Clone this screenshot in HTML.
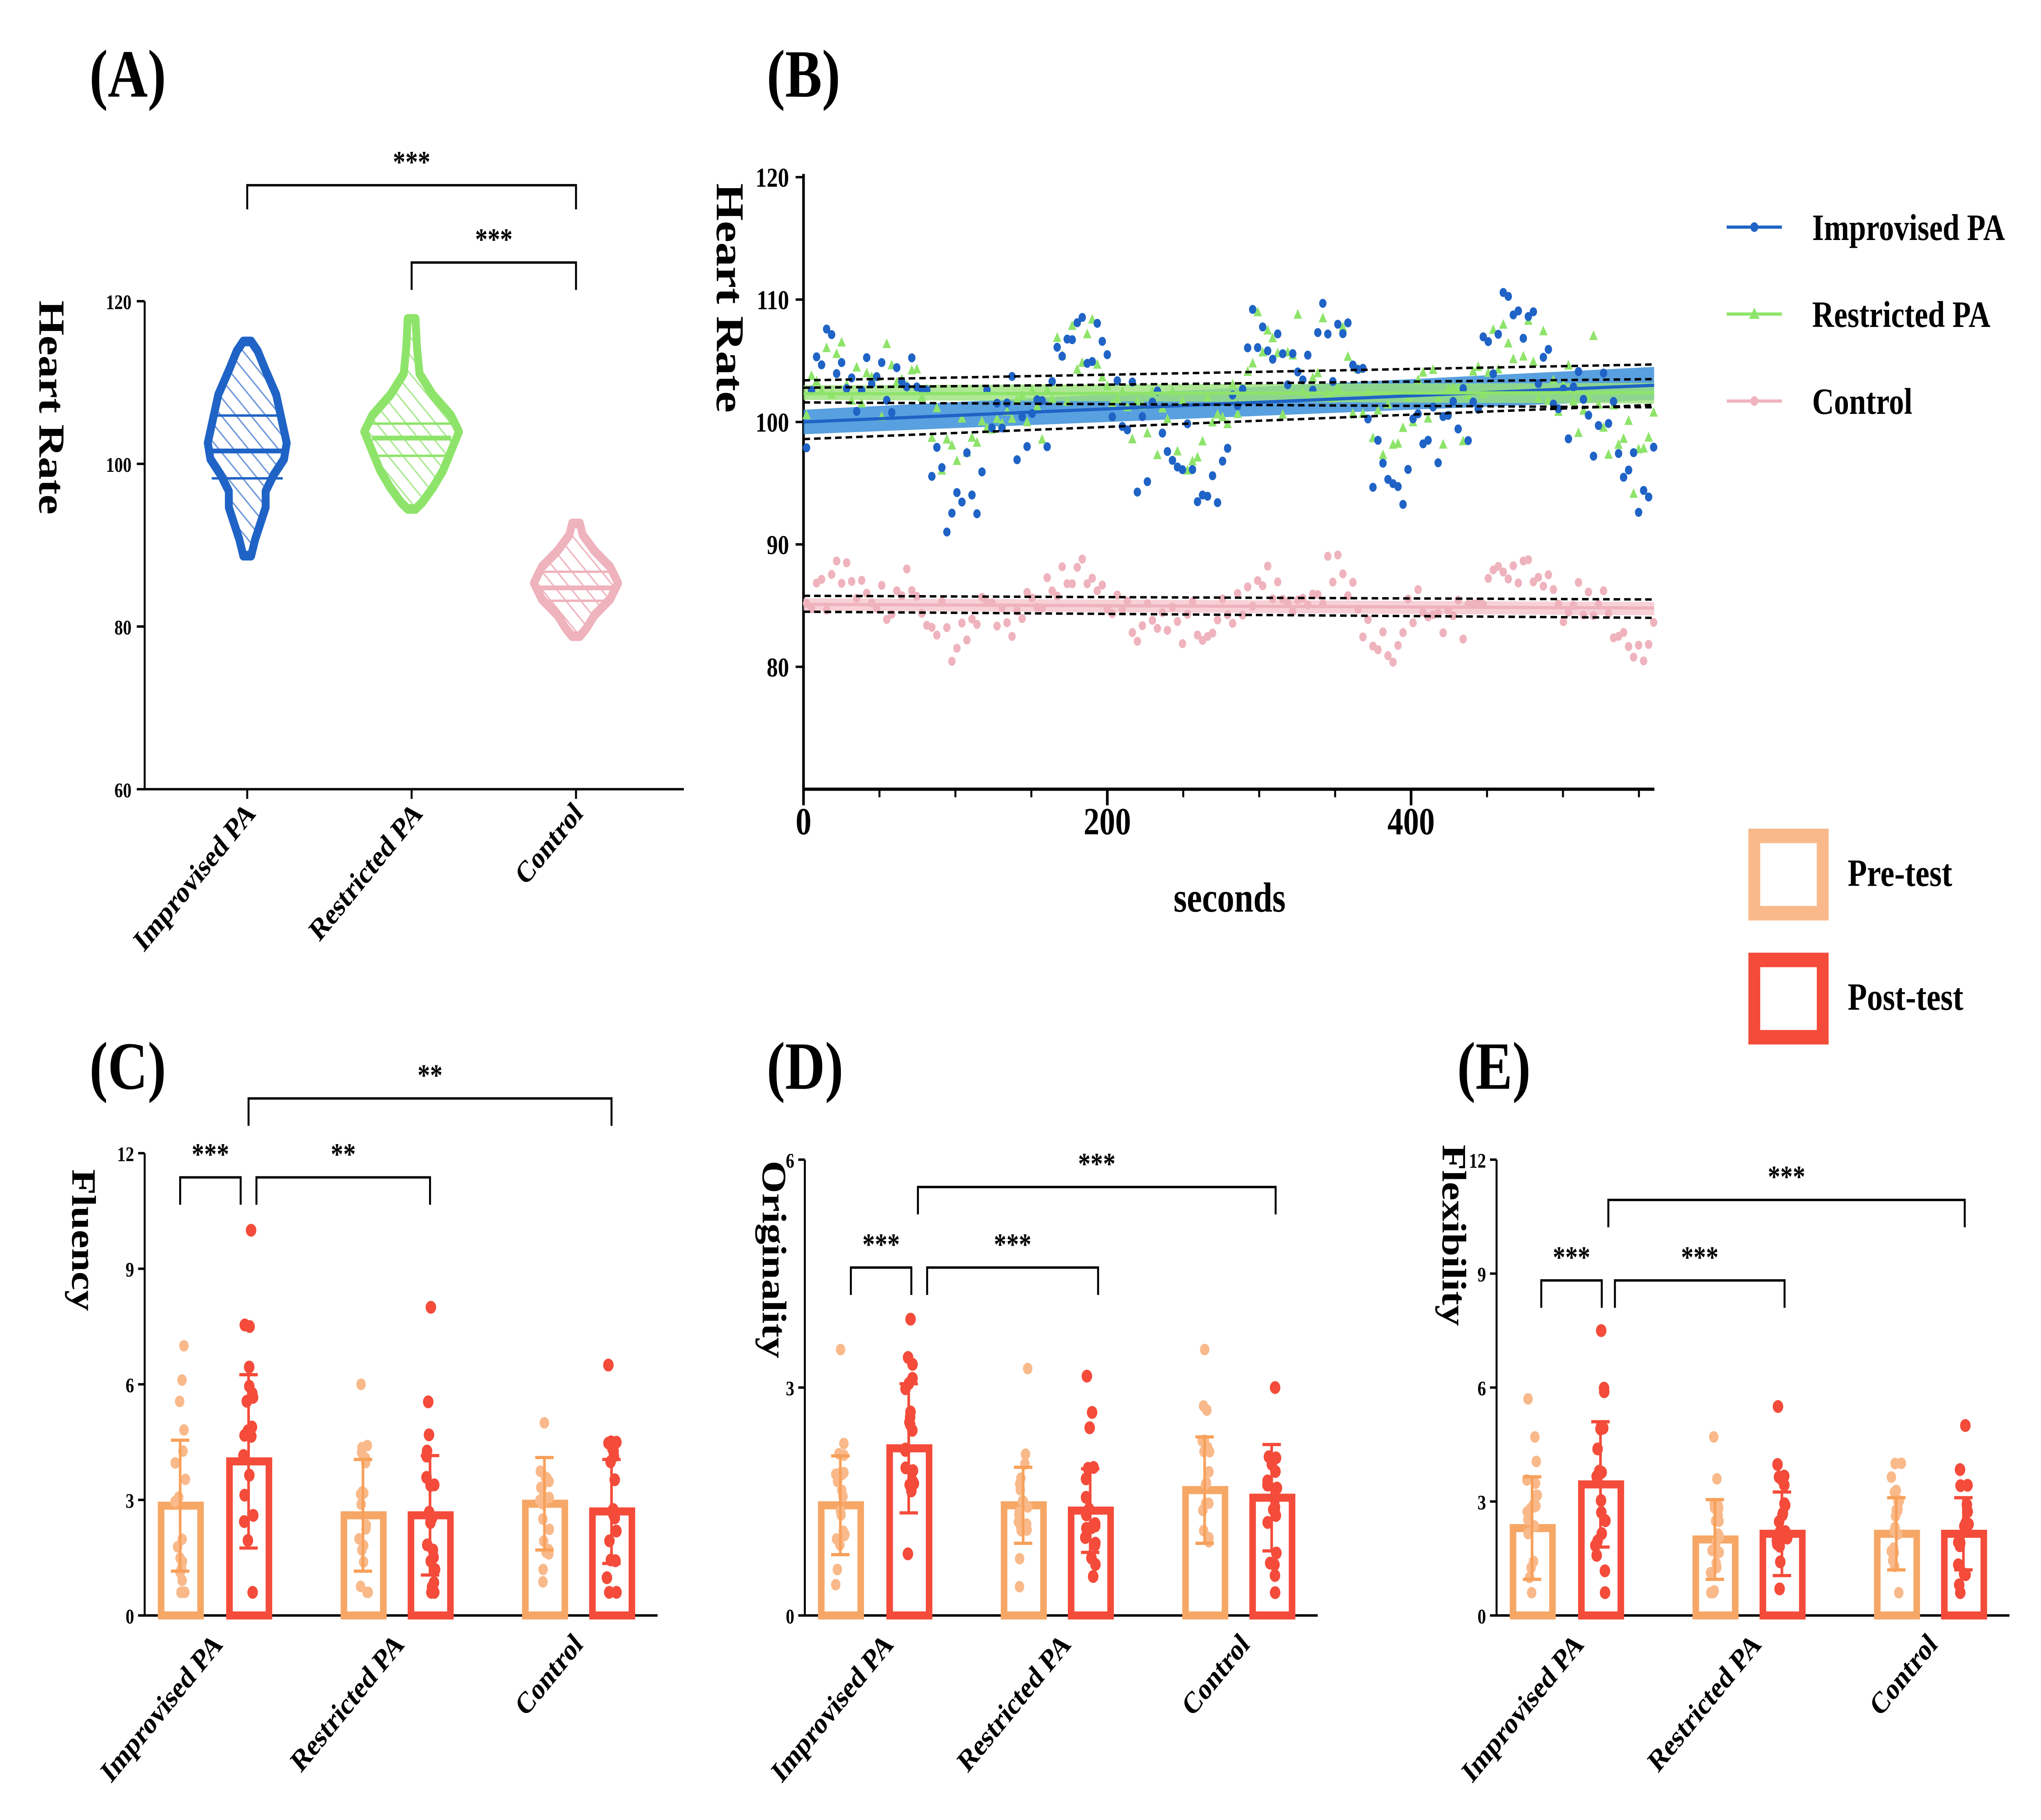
<!DOCTYPE html>
<html><head><meta charset="utf-8">
<style>
html,body{margin:0;padding:0;background:#fff;width:100vw;height:100vh;overflow:hidden;}
svg{display:block;position:absolute;left:0;top:0;width:100vw;height:100vh;}
text{font-family:"Liberation Serif",serif;font-weight:bold;fill:#000;}
</style></head>
<body>
<svg id="s" viewBox="0 0 1552 1130" preserveAspectRatio="none" xmlns="http://www.w3.org/2000/svg"></svg>
<script>
var s=document.getElementById('s');var out=[];
var seed=12345;function rnd(){seed=(seed*16807)%2147483647;return (seed-1)/2147483646;}
function gauss(){return (rnd()+rnd()+rnd()+rnd()-2)/0.58;}
function L(x1,y1,x2,y2,c,w,extra){out.push('<line x1="'+x1+'" y1="'+y1+'" x2="'+x2+'" y2="'+y2+'" stroke="'+(c||'#000')+'" stroke-width="'+(w||1.5)+'" '+(extra||'')+'/>');}
function T(x,y,t,sz,anc,extra){out.push('<text x="'+x+'" y="'+y+'" font-size="'+sz+'" text-anchor="'+(anc||'start')+'" '+(extra||'')+'>'+t+'</text>');}
function bracket(x1,x2,y,drop1,drop2,label){out.push('<polyline points="'+x1+','+(y+drop1)+' '+x1+','+y+' '+x2+','+y+' '+x2+','+(y+drop2)+'" fill="none" stroke="#000" stroke-width="1.5"/>');T((x1+x2)/2,y-8,label,19,'middle');}
T(68,60,'(A)',42);T(583,60,'(B)',42);T(68,676,'(C)',42);T(583,676,'(D)',42);T(1108,676,'(E)',42);
L(110,187,110,490);L(110,490,520,490);
[[187,'120'],[288,'100'],[389,'80'],[490,'60']].forEach(function(t){L(104,t[0],110,t[0]);T(100,t[0]+5,t[1],13,'end');});
[188,313,438].forEach(function(x){L(x,490,x,496);});
T(0,0,'Heart Rate',28,'middle','transform="translate(30,253) rotate(90)"');
function violin(cx,prof,col,hatch,med,q1,q3,wm){
 var d='M'+cx+','+prof[0][0];prof.forEach(function(p){d+=' L'+(cx+p[1])+','+p[0];});for(var i=prof.length-1;i>=0;i--){d+=' L'+(cx-prof[i][1])+','+prof[i][0];}d+='Z';
 out.push('<defs><pattern id="h'+cx+'" width="8" height="8" patternUnits="userSpaceOnUse" patternTransform="rotate(-45)"><line x1="0" y1="0" x2="0" y2="8" stroke="'+hatch+'" stroke-width="2"/></pattern></defs>');
 out.push('<path d="'+d+'" fill="url(#h'+cx+')" stroke="'+col+'" stroke-width="6" stroke-linejoin="round"/>');
 L(cx-wm,med,cx+wm,med,col,3);L(cx-wm,q1,cx+wm,q1,col,1.5);L(cx-wm,q3,cx+wm,q3,col,1.5);
}
violin(188,[[212,3],[218,8],[230,14],[245,22],[260,26],[275,30],[285,28],[295,20],[305,14],[315,14],[325,10],[335,6],[345,3]],'#1f63c6','#6f98da',280,258,297,27);
violin(313,[[198,3],[215,4],[232,6],[245,16],[258,30],[268,36],[280,30],[292,24],[303,16],[312,8],[316,3]],'#8ee46a','#a9e890',272,263,283,30);
violin(438,[[325,3],[332,5],[342,14],[352,26],[362,32],[372,26],[382,14],[390,8],[395,3]],'#efb3bd','#efb3bd',365,355,373,28);
bracket(188,438,115,15,15,'***');bracket(313,438,163,17,17,'***');
function rotLabel(x,y,t){T(0,0,t,19,'end','transform="translate('+x+','+y+') rotate(-45)"');}
rotLabel(195,506,'Improvised PA');rotLabel(322,506,'Restricted PA');rotLabel(444,506,'Control');
var bx0=611,bx1=1258,by=490;function Y(v){return 110+(120-v)*7.6;}function X(t){return 611+t*1.155;}
L(bx0,108,bx0,by,'#000',2);L(bx0,by,bx1,by,'#000',2);
[120,110,100,90,80].forEach(function(v){L(605,Y(v),611,Y(v));T(600,Y(v)+6,v,17,'end');});
[0,200,400].forEach(function(t){L(X(t),by,X(t),by+10,'#000',2);T(X(t),by+28,t,24,'middle');});
for(var t=50;t<560;t+=50){if(t%200)L(X(t),by,X(t),by+5);}
T(935,566,'seconds',26,'middle');
T(0,0,'Heart Rate',30,'middle','transform="translate(545,185) rotate(90)"');
out.push('<polygon points="'+X(0)+','+Y(101)+' '+X(560)+','+Y(104.5)+' '+X(560)+','+Y(101.8)+' '+X(0)+','+Y(99)+'" fill="#3b8fd9" opacity="0.85"/>');
out.push('<polygon points="'+X(0)+','+Y(103)+' '+X(560)+','+Y(103.2)+' '+X(560)+','+Y(101.5)+' '+X(0)+','+Y(101.8)+'" fill="#9be27a" opacity="0.8"/>');
out.push('<polygon points="'+X(0)+','+Y(85.6)+' '+X(560)+','+Y(85.3)+' '+X(560)+','+Y(84.2)+' '+X(0)+','+Y(84.6)+'" fill="#f5c6cd" opacity="0.8"/>');
function series(col,base,amp,shape,slope,wav){for(var t=2;t<560;t+=3.3){var v=base+slope*t+amp*0.5*gauss()+wav*Math.sin(t/23)+wav*0.5*Math.sin(t/9);var x=X(t),y=Y(v);
 if(shape=='tri')out.push('<polygon points="'+x+','+(y-3.5)+' '+(x-3.2)+','+(y+2.5)+' '+(x+3.2)+','+(y+2.5)+'" fill="'+col+'"/>');
 else out.push('<circle cx="'+x+'" cy="'+y+'" r="2.8" fill="'+col+'"/>');}}
series('#efb3bd',85,2.3,'c',0,1.8);series('#8ee46a',101.5,3.6,'tri',0.002,3);series('#1f63c6',100,4,'c',0.005,5);
L(X(0),Y(100),X(560),Y(103),'#1f63c6',2);L(X(0),Y(102.3),X(560),Y(102.4),'#8ee46a',2);L(X(0),Y(85.1),X(560),Y(84.8),'#efb3bd',2);
var dsh='stroke-dasharray="5,3"';
L(X(0),Y(103.4),X(560),Y(104.7),'#000',1.5,dsh);L(X(0),Y(98.6),X(560),Y(101.4),'#000',1.5,dsh);
L(X(0),Y(102.8),X(560),Y(103.5),'#000',1.5,dsh);L(X(0),Y(101.6),X(560),Y(101.2),'#000',1.5,dsh);
L(X(0),Y(85.8),X(560),Y(85.5),'#000',1.5,dsh);L(X(0),Y(84.5),X(560),Y(84.0),'#000',1.5,dsh);
[[141,'#1f63c6','Improvised PA','c'],[195,'#8ee46a','Restricted PA','t'],[249,'#efb3bd','Control','c']].forEach(function(l){
 L(1313,l[0],1355,l[0],l[1],2);
 if(l[3]=='c')out.push('<circle cx="1334" cy="'+l[0]+'" r="3" fill="'+l[1]+'"/>');else out.push('<polygon points="1334,'+(l[0]-4)+' 1330,'+(l[0]+3)+' 1338,'+(l[0]+3)+'" fill="'+l[1]+'"/>');
 T(1378,l[0]+8,l[2],23);});
out.push('<rect x="1334" y="519" width="52" height="48" fill="none" stroke="#f9b98a" stroke-width="9"/>');
out.push('<rect x="1334" y="596" width="52" height="48" fill="none" stroke="#f44b3a" stroke-width="9"/>');
T(1405,550,'Pre-test',24);T(1405,627,'Post-test',24);
function barPanel(ax,ytop,ymax,ticks,label,lx,ly,bars,sds,maxs){
 var yb=1003;function YY(v){return yb-(yb-ytop)*v/ymax;}
 L(ax,ytop,ax,yb);L(ax,yb,ax+390,yb);
 ticks.forEach(function(v){L(ax-5,YY(v),ax,YY(v));T(ax-8,YY(v)+5,v,13,'end');});
 T(0,0,label,26,'middle','transform="translate('+lx+','+ly+') rotate(90)"');
 var xs=[ax+10,ax+62,ax+149,ax+200,ax+287,ax+338];
 bars.forEach(function(v,i){var pre=i%2==0;var fc=pre?'#f7a05a':'#f44b3a';var dcol=pre?'#f9b98a':'#f44b3a';
  var x=xs[i],cx=x+17;
  out.push('<rect x="'+(x+2.5)+'" y="'+YY(v)+'" width="30" height="'+(yb-YY(v))+'" fill="#fff" stroke="'+(pre?'#f6a766':'#f44b3a')+'" stroke-width="5"/>');
  for(var k=0;k<20;k++){var d=Math.max(ymax*0.05,v+sds[i]*gauss()*0.9);if(k==0)d=maxs[i];out.push('<circle cx="'+(cx+(rnd()-0.5)*8)+'" cy="'+YY(d)+'" r="'+(pre?3.6:4)+'" fill="'+dcol+'"/>');}
  L(cx,YY(v-sds[i]),cx,YY(v+sds[i]),fc,2);L(cx-7,YY(v+sds[i]),cx+7,YY(v+sds[i]),fc,2);L(cx-7,YY(v-sds[i]),cx+7,YY(v-sds[i]),fc,2);
 });
}
barPanel(110,716,12,[0,3,6,9,12],'Fluency',55,770,[2.85,4.0,2.6,2.6,2.9,2.7],[1.7,2.25,1.45,1.55,1.2,1.35],[7,10,6,8,5,6.5]);
bracket(137,183,731,17,17,'***');bracket(195,327,731,17,17,'**');bracket(189,465,682,17,17,'**');
rotLabel(170,1022,'Improvised PA');rotLabel(308,1022,'Restricted PA');rotLabel(444,1022,'Control');
barPanel(612,720,6,[0,3,6],'Originality',580,782,[1.45,2.2,1.45,1.38,1.65,1.55],[0.65,0.85,0.5,0.55,0.7,0.7],[3.5,3.9,3.25,3.15,3.5,3.0]);
bracket(647,693,787,17,17,'***');bracket(705,835,787,17,17,'***');bracket(698,970,737,17,17,'***');
rotLabel(680,1022,'Improvised PA');rotLabel(815,1022,'Restricted PA');rotLabel(951,1022,'Control');
barPanel(1138,720,12,[0,3,6,9,12],'Flexibility',1097,767,[2.3,3.45,2.0,2.15,2.15,2.15],[1.35,1.65,1.05,1.1,0.95,0.95],[5.7,7.5,4.7,5.5,4.0,5.0]);
bracket(1172,1218,795,17,17,'***');bracket(1228,1357,795,17,17,'***');bracket(1223,1494,745,17,17,'***');
rotLabel(1205,1022,'Improvised PA');rotLabel(1340,1022,'Restricted PA');rotLabel(1474,1022,'Control');
s.innerHTML=out.join('');
</script>
</body></html>
